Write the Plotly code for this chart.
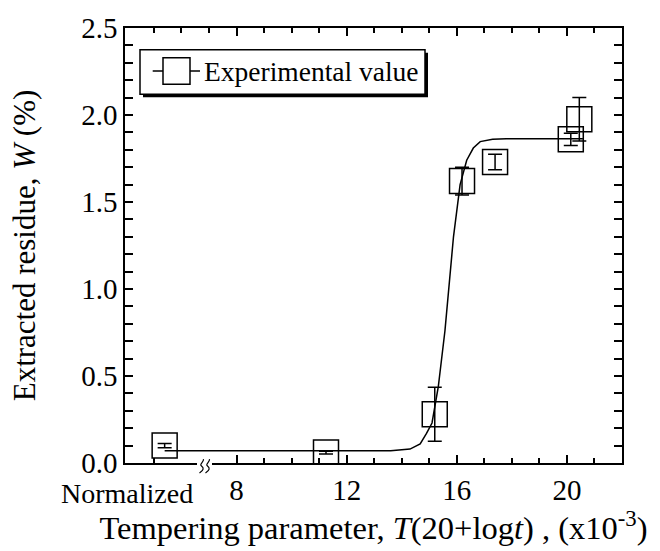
import plotly.graph_objects as go

# ---- data ----
exp_x = [5.39, 11.25, 15.2, 16.19, 17.39, 20.14, 20.45]
exp_y = [0.10, 0.06, 0.28, 1.62, 1.73, 1.86, 1.975]
exp_err = [0.012, 0.008, 0.155, 0.08, 0.045, 0.035, 0.125]

fit_x = [5.39, 13.6, 14.3, 14.67, 14.9, 15.1, 15.33, 15.57, 15.88, 16.12, 16.36, 16.6, 16.85, 17.3, 17.8, 20.58]
fit_y = [0.07, 0.07, 0.08, 0.11, 0.17, 0.23, 0.44, 0.76, 1.30, 1.60, 1.74, 1.81, 1.847, 1.86, 1.864, 1.864]

x_major = [8, 12, 16, 20]
x_minor_bottom = [5, 9, 10, 11, 13, 14, 15, 17, 18, 19, 21]
x_minor_top = [5, 6, 7, 9, 10, 11, 13, 14, 15, 17, 18, 19, 21]
y_ticks = [0.0, 0.5, 1.0, 1.5, 2.0, 2.5]

FONT = "Liberation Serif"
W, H = 660, 551
L, R, T, B = 125, 38, 23, 88
PW, PH = W - L - R, H - T - B
XR = [3.95, 22.0]


def px(xp):
    return (xp - L) / PW


def py(yp):
    return (H - B - yp) / PH


def dx(xp):
    return XR[0] + (xp - L) / PW * (XR[1] - XR[0])


fig = go.Figure()

fig.add_trace(go.Scatter(
    x=fit_x, y=fit_y, mode="lines", name="Fit",
    line=dict(color="black", width=1.5), showlegend=False,
))
fig.add_trace(go.Scatter(
    x=exp_x, y=exp_y, mode="markers", name="Experimental value",
    marker=dict(symbol="square-open", size=25, color="black", line=dict(width=1.5, color="black")),
    error_y=dict(type="data", array=exp_err, visible=True, color="black", thickness=1.5, width=7),
    showlegend=False,
))
# invisible trace to hold the top axis
fig.add_trace(go.Scatter(x=[XR[0]], y=[0], xaxis="x2", mode="markers",
                         marker=dict(opacity=0), showlegend=False, hoverinfo="skip"))

axis_common = dict(showline=True, linecolor="black", linewidth=1.5, ticks="inside",
                   tickcolor="black", tickwidth=1.5, showgrid=False, zeroline=False)

fig.update_layout(
    width=W, height=H,
    margin=dict(l=L, r=R, t=T, b=B),
    paper_bgcolor="white", plot_bgcolor="white",
    font=dict(family=FONT, color="black", size=29),
    xaxis=dict(
        range=XR, tickmode="array", tickvals=x_major, ticktext=[str(v) for v in x_major],
        ticklen=8, tickfont=dict(size=29),
        minor=dict(tickmode="array", tickvals=x_minor_bottom, ticks="inside", ticklen=5,
                   tickcolor="black", tickwidth=1.5, showgrid=False),
        title=dict(text="Tempering parameter, <i>T</i>(20+log<i>t</i>) , (x10<sup>-3</sup>)",
                   font=dict(size=32.5), standoff=8),
        **axis_common,
    ),
    xaxis2=dict(
        range=XR, overlaying="x", side="top", tickmode="array", tickvals=x_major,
        showticklabels=False, ticklen=8,
        minor=dict(tickmode="array", tickvals=x_minor_top, ticks="inside", ticklen=5,
                   tickcolor="black", tickwidth=1.5, showgrid=False),
        **axis_common,
    ),
    yaxis=dict(
        range=[0, 2.5], tickmode="array", tickvals=y_ticks,
        ticktext=[f"{v:.1f}" for v in y_ticks], ticklen=8, mirror="allticks",
        tickfont=dict(size=29),
        minor=dict(dtick=0.1, tick0=0, ticks="inside", ticklen=5, tickcolor="black",
                   tickwidth=1.5, showgrid=False),
        title=dict(text="Extracted residue, <i>W</i> (%)", font=dict(size=31), standoff=36),
        **axis_common,
    ),
)

shapes = []
# axis break: white gap in the bottom axis line
shapes.append(dict(type="rect", xref="x", yref="paper", x0=dx(197), x1=dx(212),
                   y0=py(467), y1=py(459), fillcolor="white", line=dict(width=0), layer="above"))
for xc in (201.5, 207.5):
    xa, xb = dx(xc - 2.5), dx(xc + 2.5)
    xm = dx(xc)
    path = (f"M{dx(xc + 2)},{py(459)} C{xb},{py(462)} {xa},{py(464)} {xm},{py(466)} "
            f"S{xb},{py(470)} {dx(xc - 2)},{py(473)}")
    shapes.append(dict(type="path", xref="x", yref="paper", path=path,
                       line=dict(color="black", width=1.2), layer="above"))

# legend box with drop shadow
shapes.append(dict(type="rect", xref="paper", yref="paper", x0=px(143), x1=px(428),
                   y0=py(93), y1=py(48), fillcolor="black", line=dict(width=0), layer="above"))
shapes.append(dict(type="rect", xref="paper", yref="paper", x0=px(140), x1=px(425),
                   y0=py(90), y1=py(45), fillcolor="white", line=dict(color="black", width=1.5),
                   layer="above"))
shapes.append(dict(type="line", xref="paper", yref="paper", x0=px(152.7), x1=px(200),
                   y0=py(66.5), y1=py(66.5), line=dict(color="black", width=1.5), layer="above"))
shapes.append(dict(type="rect", xref="paper", yref="paper", x0=px(163), x1=px(190),
                   y0=py(80), y1=py(53), fillcolor="white", line=dict(color="black", width=1.5),
                   layer="above"))
fig.update_layout(shapes=shapes)

fig.add_annotation(text="Experimental value", xref="paper", yref="paper", x=px(202), y=py(67),
                   xanchor="left", yanchor="middle", showarrow=False, font=dict(size=27.5))
fig.add_annotation(text="Normalized", xref="paper", yref="paper", x=px(127), y=py(494),
                   xanchor="center", yanchor="middle", showarrow=False, font=dict(size=28))

fig.write_html("out.html")
